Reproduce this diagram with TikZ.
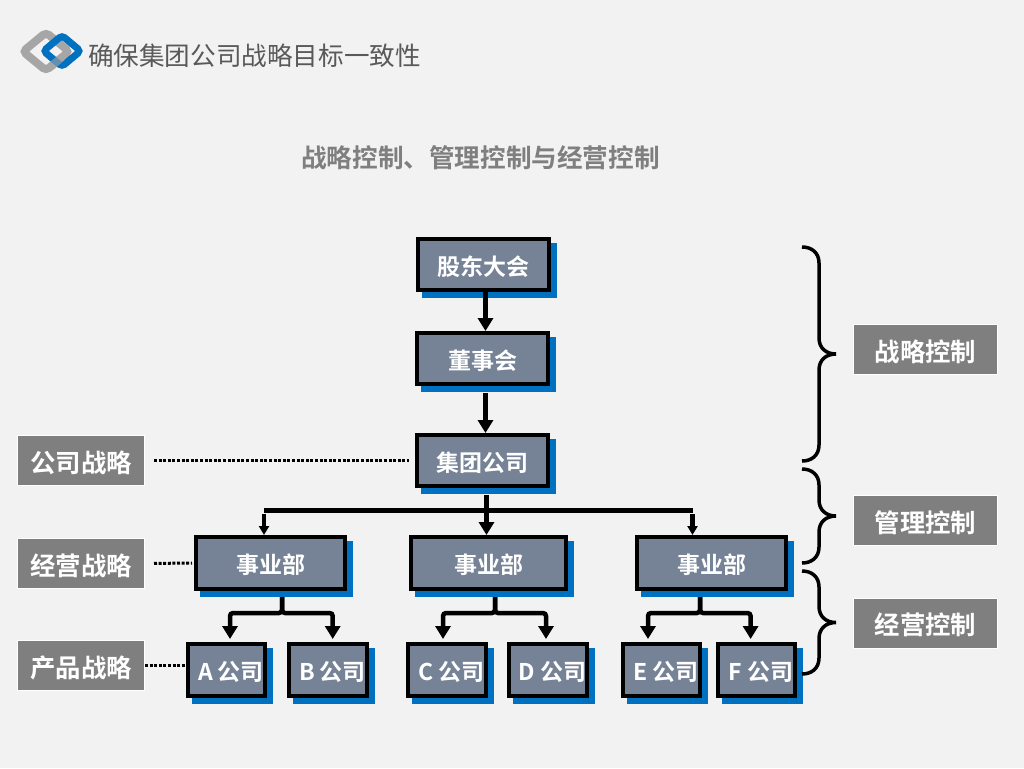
\documentclass[tikz,border=0pt]{standalone}
\usepackage{fontspec}
\setmainfont{Noto Sans CJK SC}[BoldFont={Noto Sans CJK SC Bold}]
\usetikzlibrary{arrows.meta,calc,shadows}
\definecolor{pagegray}{HTML}{F2F2F2}
\definecolor{boxslate}{HTML}{768296}
\definecolor{shadowblue}{HTML}{0070C0}
\definecolor{labelgray}{HTML}{7F7F7F}
\definecolor{titlegray}{HTML}{595959}
\definecolor{logogray}{HTML}{A6A6A6}
\tikzset{
  orgbox/.style={draw=black,line width=4pt,fill=boxslate,text=white,inner sep=0pt,
    text height=25pt,text depth=3.6pt,
    font=\fontsize{23}{27}\selectfont\bfseries,
    copy shadow={shadow xshift=6pt,shadow yshift=-6pt,fill=shadowblue,draw=shadowblue}},
  kidbox/.style={orgbox,minimum width=77.5pt,minimum height=52pt,execute at begin node=\hspace*{9pt}},
  labelbox/.style={draw=white,line width=1pt,fill=labelgray,text=white,inner sep=0pt,
    text height=29pt,text depth=6pt,
    minimum width=127pt,minimum height=50pt,font=\fontsize{25.4}{30}\selectfont\bfseries},
  orgarrow/.style={line width=4.5pt,-{Triangle[length=13pt,width=15pt]}},
  thinarrow/.style={line width=4.5pt,-{Triangle[length=9pt,width=10pt]}},
  dotline/.style={line width=3pt,dash pattern=on 3pt off 1.6pt},
  bracemark/.style={line width=3.5pt},
}
\begin{document}
\begin{tikzpicture}[x=1pt,y=-1pt]
  \useasboundingbox[fill=pagegray] (0,0) rectangle (1024,768);
  % logo
  \draw[logogray,line width=8pt,rounded corners=4pt] (23,51.5) -- (46,32.5) -- (69,51.5) -- (46,70.5) -- cycle;
  \draw[shadowblue,line width=7pt,rounded corners=3.5pt] (43.5,51) -- (62,35.5) -- (80.5,51) -- (62,66.5) -- cycle;
  \draw[logogray,line width=8pt,opacity=.6] (50.6,66.7) -- (62.1,57.2);
  \node[text=titlegray,inner sep=0pt,font=\fontsize{25.6}{30}\selectfont] (heading) at (254.5,56) {确保集团公司战略目标一致性};
  \node[text=labelgray,inner sep=0pt,font=\fontsize{25.6}{30}\selectfont\bfseries] (subheading) at (480.5,158) {战略控制、管理控制与经营控制};

  % org boxes
  \node[orgbox,minimum width=131pt,minimum height=51pt] (gudong) at (483.5,264.5) {股东大会};
  \node[orgbox,minimum width=131pt,minimum height=51pt] (dongshi) at (482.5,358.5) {董事会};
  \node[orgbox,minimum width=131pt,minimum height=51pt] (jituan) at (482.5,460.5) {集团公司};
  \node[orgbox,minimum width=149pt,minimum height=52pt] (shiyeA) at (270.5,563) {事业部};
  \node[orgbox,minimum width=155pt,minimum height=52pt] (shiyeB) at (488.5,563) {事业部};
  \node[orgbox,minimum width=149pt,minimum height=52pt] (shiyeC) at (711.5,563) {事业部};
  \node[kidbox] (compA) at (226.5,670) {A 公司};
  \node[kidbox] (compB) at (328,670) {B 公司};
  \node[kidbox] (compC) at (447,670) {C 公司};
  \node[kidbox] (compD) at (548,670) {D 公司};
  \node[kidbox] (compE) at (661.5,670) {E 公司};
  \node[kidbox] (compF) at (756.5,670) {F 公司};

  % labels
  \node[labelbox] (lcompany) at (81,460.5) {公司战略};
  \node[labelbox] (lbusiness) at (81,563.5) {经营战略};
  \node[labelbox] (lproduct) at (81,665.5) {产品战略};
  \node[labelbox,minimum width=144pt] (rstrategy) at (925.5,349.5) {战略控制};
  \node[labelbox,minimum width=144pt] (rmanage) at (925.5,520.5) {管理控制};
  \node[labelbox,minimum width=144pt] (roperate) at (925.5,623) {经营控制};

  % connectors
  \coordinate (busL) at (264,510.5);
  \coordinate (busR) at (692.5,510.5);
  \draw[orgarrow] (485.5,0 |- gudong.south) -- (485.5,0 |- dongshi.north);
  \draw[orgarrow,shorten <=7pt] (485.5,0 |- dongshi.south) -- (485.5,0 |- jituan.north);
  \draw[orgarrow,shorten <=7pt] (486.5,0 |- jituan.south) -- (486.5,0 |- shiyeB.north);
  \draw[line width=4.5pt] (busL) -- (busR);
  \draw[thinarrow,shorten <=3.5pt] (busL) -- (busL |- shiyeA.north);
  \draw[thinarrow,shorten <=3.5pt] (busR) -- (busR |- shiyeC.north);
  \foreach \parent/\px/\kid/\kx in {shiyeA/11.5/compA/3.5,shiyeA/11.5/compB/4.7,
      shiyeB/6.5/compC/-4,shiyeB/6.5/compD/-2,shiyeC/-11.5/compE/-13.5,shiyeC/-11.5/compF/-5.9}
    \draw[orgarrow,rounded corners=3pt,shorten <=6pt] ($(\parent.south)+(\px,0)$) |- ($(\kid.north)+(\kx,-29)$) -- ($(\kid.north)+(\kx,-3)$);

  % dotted leaders
  \draw[dotline,shorten <=9pt,shorten >=6pt] (lcompany.east) -- (jituan.west);
  \draw[dotline,shorten <=9pt,shorten >=2pt] (lbusiness.east) -- (shiyeA.west);
  \draw[dotline,shorten >=1pt] (lproduct.east) -- (lproduct.east -| compA.west);

  % braces
  \foreach \ytop/\ymid/\ybot in {247/354/461,469/516/563,571/622.5/674}
    \draw[bracemark] (802,\ytop) .. controls (812,\ytop) and (819,\ytop+6) .. (819,\ytop+16)
      -- (819,\ymid-16) .. controls (819,\ymid-6) and (826,\ymid) .. (836,\ymid)
      .. controls (826,\ymid) and (819,\ymid+6) .. (819,\ymid+16)
      -- (819,\ybot-16) .. controls (819,\ybot-6) and (812,\ybot) .. (802,\ybot);
\end{tikzpicture}
\end{document}
